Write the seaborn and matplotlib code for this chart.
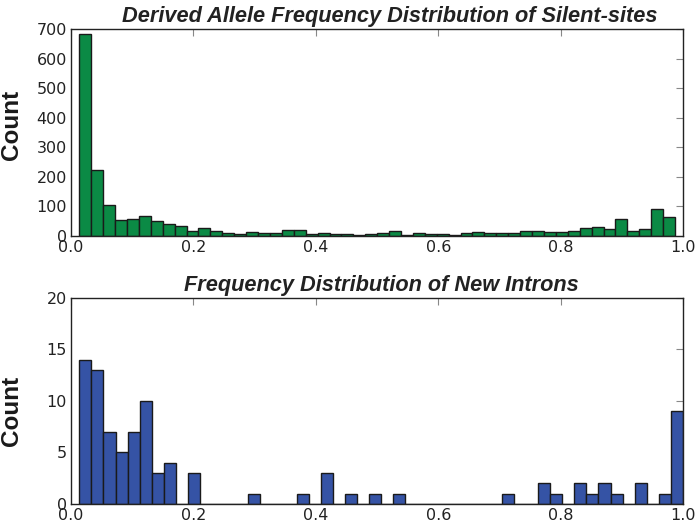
import numpy as np
import pandas as pd
import matplotlib
matplotlib.use("Agg")
import matplotlib.pyplot as plt
import seaborn as sns

# counts per bin (50 bins each)
silent_counts = [684, 222, 104, 54, 58, 69, 51, 41, 34, 16,
                 26, 16, 9, 6, 15, 11, 9, 19, 21, 5,
                 9, 7, 7, 3, 7, 11, 16, 3, 11, 8,
                 7, 4, 9, 15, 10, 10, 10, 17, 16, 12,
                 12, 17, 28, 30, 22, 58, 18, 24, 92, 64]
silent_range = (0.0135, 0.987)

intron_counts = [14, 13, 7, 5, 7, 10, 3, 4, 0, 3,
                 0, 0, 0, 0, 1, 0, 0, 0, 1, 0,
                 3, 0, 1, 0, 1, 0, 1, 0, 0, 0,
                 0, 0, 0, 0, 0, 1, 0, 0, 2, 1,
                 0, 2, 1, 2, 1, 0, 2, 0, 1, 9]
intron_range = (0.0135, 1.0)

sns.set_style("white")
plt.rcParams["font.family"] = ["DejaVu Sans"]

fig = plt.figure(figsize=(6.97, 5.23), dpi=100)
ax1 = fig.add_axes([0.1019, 0.5488, 0.878, 0.3958])
ax2 = fig.add_axes([0.1019, 0.0363, 0.878, 0.3945])


def draw(ax, counts, rng, color, title, ymax, ystep, title_x, label_y):
    edges = np.linspace(rng[0], rng[1], len(counts) + 1)
    df = pd.DataFrame({"freq": (edges[:-1] + edges[1:]) / 2, "n": counts})
    sns.histplot(data=df, x="freq", weights="n", bins=edges.tolist(), ax=ax,
                 color=color, edgecolor="#1a1a1a", linewidth=1.0, alpha=1)
    ax.set_xlim(0, 1)
    ax.set_ylim(0, ymax)
    ax.set_yticks(np.arange(0, ymax + 1, ystep))
    ax.set_xticks(np.arange(0, 1.01, 0.2))
    ax.set_xticklabels([f"{v:.1f}" for v in np.arange(0, 1.01, 0.2)])
    ax.tick_params(direction="in", top=True, right=True, length=5,
                   width=0.8, color="#888888", labelsize=11.5, pad=3,
                   labelcolor="#222222")
    for s in ax.spines.values():
        s.set_color("#222222")
        s.set_linewidth(1.0)
    ax.set_ylabel("Count", fontsize=17.5, fontweight="bold",
                  family="Liberation Sans", color="#1a1a1a")
    ax.yaxis.set_label_coords(-0.078, label_y)
    ax.set_xlabel("")
    ax.set_title(title, fontsize=15.7, fontweight="bold", style="italic",
                 family="Liberation Sans", color="#222222", pad=5, x=title_x)


draw(ax1, silent_counts, silent_range, "#0b8a45",
     "Derived Allele Frequency Distribution of Silent-sites", 700, 100,
     0.521, 0.536)
draw(ax2, intron_counts, intron_range, "#3553a5",
     "Frequency Distribution of New Introns", 20, 5,
     0.507, 0.451)

fig.savefig("out.png", dpi=100)
